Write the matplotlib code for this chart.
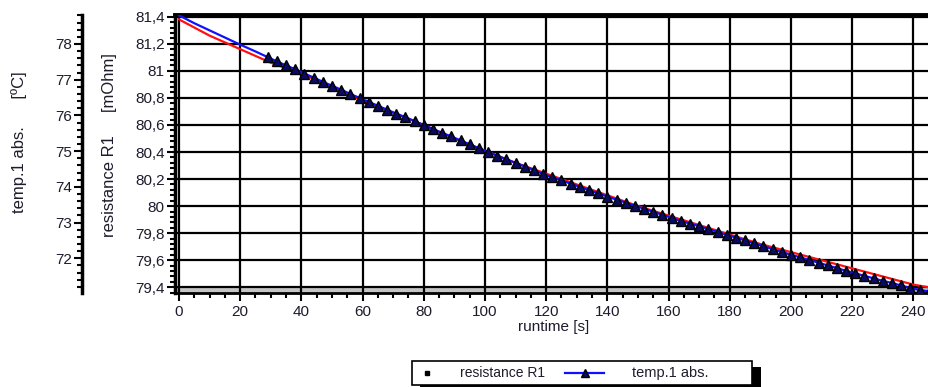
import matplotlib
matplotlib.use("Agg")
import matplotlib.pyplot as plt
from matplotlib.ticker import MultipleLocator, FuncFormatter
from matplotlib.patches import Rectangle
from matplotlib.lines import Line2D

plt.rcParams['font.family'] = ['Liberation Sans', 'DejaVu Sans']

# resistance R1 [mOhm] over runtime [s]
res_time = [0, 10, 20, 30, 40, 50, 60, 70, 80, 90, 100, 110, 120, 130, 140, 150,
            160, 170, 180, 190, 200, 210, 220, 230, 240, 245]
res_vals = [81.38, 81.26, 81.16, 81.06, 80.98, 80.88, 80.78, 80.69, 80.60, 80.50,
            80.41, 80.32, 80.24, 80.16, 80.08, 80.00, 79.93, 79.86, 79.79, 79.72,
            79.66, 79.60, 79.54, 79.48, 79.42, 79.40]

# temp.1 abs. [°C] over runtime [s]
temp_time = [0, 5, 10, 15, 20, 25,
             29, 32, 35, 38, 41, 44, 47, 50, 53, 56, 59, 62, 65, 68, 71, 74, 77,
             80, 83, 86, 89, 92, 95, 98, 101, 104, 107, 110, 113, 116, 119, 122,
             125, 128, 131, 134, 137, 140, 143, 146, 149, 152, 155, 158, 161, 164,
             167, 170, 173, 176, 179, 182, 185, 188, 191, 194, 197, 200, 203, 206,
             209, 212, 215, 218, 221, 224, 227, 230, 233, 236, 239, 242, 245]
temp_vals = [78.80, 78.58, 78.38, 78.18, 77.98, 77.79,
             77.63, 77.51, 77.40, 77.29, 77.17, 77.06, 76.94, 76.83, 76.72, 76.60,
             76.49, 76.38, 76.27, 76.16, 76.05, 75.95, 75.84, 75.73, 75.62, 75.51,
             75.41, 75.30, 75.19, 75.08, 74.98, 74.87, 74.77, 74.67, 74.57, 74.47,
             74.36, 74.27, 74.18, 74.09, 74.00, 73.91, 73.82, 73.73, 73.64, 73.56,
             73.47, 73.39, 73.30, 73.22, 73.13, 73.05, 72.97, 72.90, 72.82, 72.74,
             72.66, 72.58, 72.50, 72.42, 72.34, 72.26, 72.18, 72.10, 72.03, 71.95,
             71.88, 71.80, 71.73, 71.65, 71.58, 71.51, 71.44, 71.37, 71.31, 71.24,
             71.17, 71.12, 71.07]
temp_marker_start = 6

x_ticks = [0, 20, 40, 60, 80, 100, 120, 140, 160, 180, 200, 220, 240]
res_ticks = [79.4, 79.6, 79.8, 80.0, 80.2, 80.4, 80.6, 80.8, 81.0, 81.2, 81.4]
temp_ticks = [72, 73, 74, 75, 76, 77, 78]

W, H = 929, 387
fig = plt.figure(figsize=(W / 100, H / 100), dpi=100)


def fx(px):
    return px / W


def fy(py):
    return 1 - py / H


txt_color = '#1c1c2c'
tick_fs = 11
ax = fig.add_axes([fx(175), fy(293), fx(929) - fx(175), fy(15) - fy(293)])
ax.set_xlim(-1.3, 245.1)
ax.set_ylim(79.358, 81.4125)

ax.axhspan(79.358, 79.4, color='#c4c4c4', zorder=0, lw=0)
ax.plot(res_time, res_vals, color='#ff1010', lw=1.6, zorder=3)

ax.set_xticks(x_ticks)
ax.set_yticks(res_ticks)
ax.xaxis.set_minor_locator(MultipleLocator(5))
ax.yaxis.set_minor_locator(MultipleLocator(0.04))


def comma_fmt(v, pos):
    if abs(v - round(v)) < 1e-6:
        return str(int(round(v)))
    return f"{v:.1f}".replace('.', ',')


ax.yaxis.set_major_formatter(FuncFormatter(comma_fmt))
ax.grid(True, which='major', color='black', lw=1.6, zorder=1)
ax.set_axisbelow(True)
ax.tick_params(axis='both', which='major', direction='out', length=6, width=1.5,
               labelsize=tick_fs, labelcolor=txt_color, pad=1.5)
ax.tick_params(axis='both', which='minor', direction='out', length=3.5, width=1.5)
ax.tick_params(axis='x', pad=3)
ax.spines['right'].set_visible(False)
ax.spines['top'].set_linewidth(2.8)
ax.spines['left'].set_linewidth(2.5)
ax.spines['bottom'].set_linewidth(2.0)

ax2 = ax.twinx()
ax2.set_ylim(71.03, 78.81)
ax2.plot(temp_time, temp_vals, color='#1010ff', lw=1.6, marker='^', ms=6.5,
         mfc='#0a0a60', mec='black', mew=1.0,
         markevery=slice(temp_marker_start, None), zorder=4)
ax2.spines['right'].set_visible(False)
ax2.spines['top'].set_visible(False)
ax2.spines['bottom'].set_visible(False)
ax2.spines['left'].set_position(('axes', (82 - 175) / (929 - 175)))
ax2.spines['left'].set_linewidth(2.5)
ax2.spines['left'].set_bounds(71.03, 78.81)
ax2.yaxis.set_ticks_position('left')
ax2.set_yticks(temp_ticks)
ax2.yaxis.set_minor_locator(MultipleLocator(0.2))
ax2.tick_params(axis='y', which='major', direction='out', length=6, width=1.5,
                labelsize=tick_fs, labelcolor=txt_color, pad=1)
ax2.tick_params(axis='y', which='minor', direction='out', length=3.5, width=1.5)

# axis titles
fig.text(fx(19), fy(142), "temp.1 abs.      [ºC]", rotation=90, ha='center',
         va='center', fontsize=12, color=txt_color)
fig.text(fx(110), fy(145), "resistance R1     [mOhm]", rotation=90, ha='center',
         va='center', fontsize=12, color=txt_color)
fig.text(fx(554), fy(327), "runtime [s]", ha='center', va='center', fontsize=11,
         color=txt_color)

# legend box with drop shadow
fig.patches.append(Rectangle((fx(420), fy(393)), fx(761) - fx(420), fy(367) - fy(393),
                             transform=fig.transFigure, facecolor='black',
                             edgecolor='none', zorder=5))
fig.patches.append(Rectangle((fx(412), fy(385)), fx(752) - fx(412), fy(361) - fy(385),
                             transform=fig.transFigure, facecolor='white',
                             edgecolor='black', lw=1.2, zorder=6))
fig.lines.append(Line2D([fx(427)], [fy(373)], transform=fig.transFigure,
                        marker='s', ms=2.8, color='black', lw=0, zorder=7))
fig.text(fx(460), fy(373), "resistance R1", ha='left', va='center', fontsize=10,
         color=txt_color, zorder=7)
fig.lines.append(Line2D([fx(565), fx(604)], [fy(373), fy(373)], transform=fig.transFigure,
                        color='#1010ff', lw=1.6, zorder=7))
fig.lines.append(Line2D([fx(585)], [fy(373)], transform=fig.transFigure,
                        marker='^', ms=6, mfc='#0a0a60', mec='black', mew=1.0,
                        lw=0, zorder=8))
fig.text(fx(632), fy(373), "temp.1 abs.", ha='left', va='center', fontsize=10.5,
         color=txt_color, zorder=7)

fig.savefig("out.png", dpi=100)
